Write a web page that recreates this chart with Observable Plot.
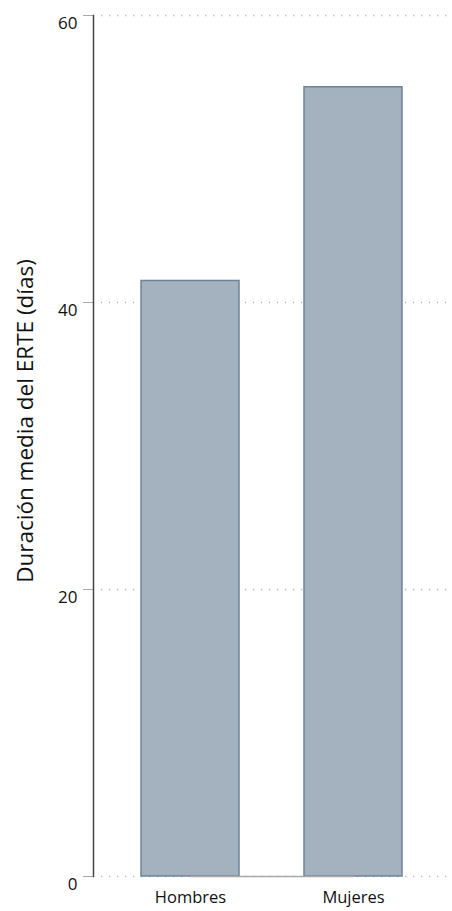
<!DOCTYPE html>
<html>
<head>
<meta charset="utf-8">
<script src="https://cdn.jsdelivr.net/npm/d3@7"></script>
<script src="https://cdn.jsdelivr.net/npm/@observablehq/plot@0.6"></script>
<style>
  html, body { margin: 0; padding: 0; background: #fff; }
  svg { display: block; }
</style>
</head>
<body>
<div id="chart"></div>
<script>
const categories = ["Hombres", "Mujeres"];
const values = [41.5, 55.0];
const yTicks = [0, 20, 40, 60];
const yLabel = "Duración media del ERTE (días)";

const data = categories.map((c, i) => ({ cat: c, value: values[i] }));

const chart = Plot.plot({
  width: 452,
  height: 911,
  marginLeft: 93,
  marginRight: 3,
  marginTop: 15,
  marginBottom: 35,
  style: { fontFamily: "'Open Sans', sans-serif", background: "#fff" },
  x: { domain: categories, paddingInner: 0.4, paddingOuter: 0.287, label: null },
  y: { domain: [0, 60], label: null },
  marks: [
    Plot.ruleY(yTicks, { stroke: "#b8b8b8", strokeWidth: 1.3, strokeDasharray: "1.3,6.7", dx: 8 }),
    Plot.barY(data, { x: "cat", y: "value", fill: "#a3b2be", stroke: "#6d8596", strokeWidth: 1.5 }),
    Plot.lineY([{ cat: categories[0], v: 0 }, { cat: categories[1], v: 0 }], { x: "cat", y: "v", stroke: "#aaaaaa", strokeWidth: 1.5 }),
    Plot.axisY({ ticks: yTicks, tickSize: 10, tickPadding: 6, stroke: "#aaaaaa", fontSize: 17, fill: "#111", fontWeight: 500, label: null }),
    Plot.frame({ anchor: "left", stroke: "#444", strokeWidth: 1.5 }),
    Plot.axisX({ tickSize: 0, tickPadding: 15, fontSize: 16.5, fill: "#111", fontWeight: 500, label: null }),
    Plot.text([yLabel], { frameAnchor: "left", textAnchor: "middle", rotate: -90, fontSize: 22.5, fill: "#111", dx: -68, dy: -25 })
  ]
});
// shift y tick labels slightly downward, as in the reference
d3.select(chart).selectAll("g[aria-label='y-axis tick label'] text").attr("dy", "0.5em");
document.getElementById("chart").appendChild(chart);
</script>
</body>
</html>
